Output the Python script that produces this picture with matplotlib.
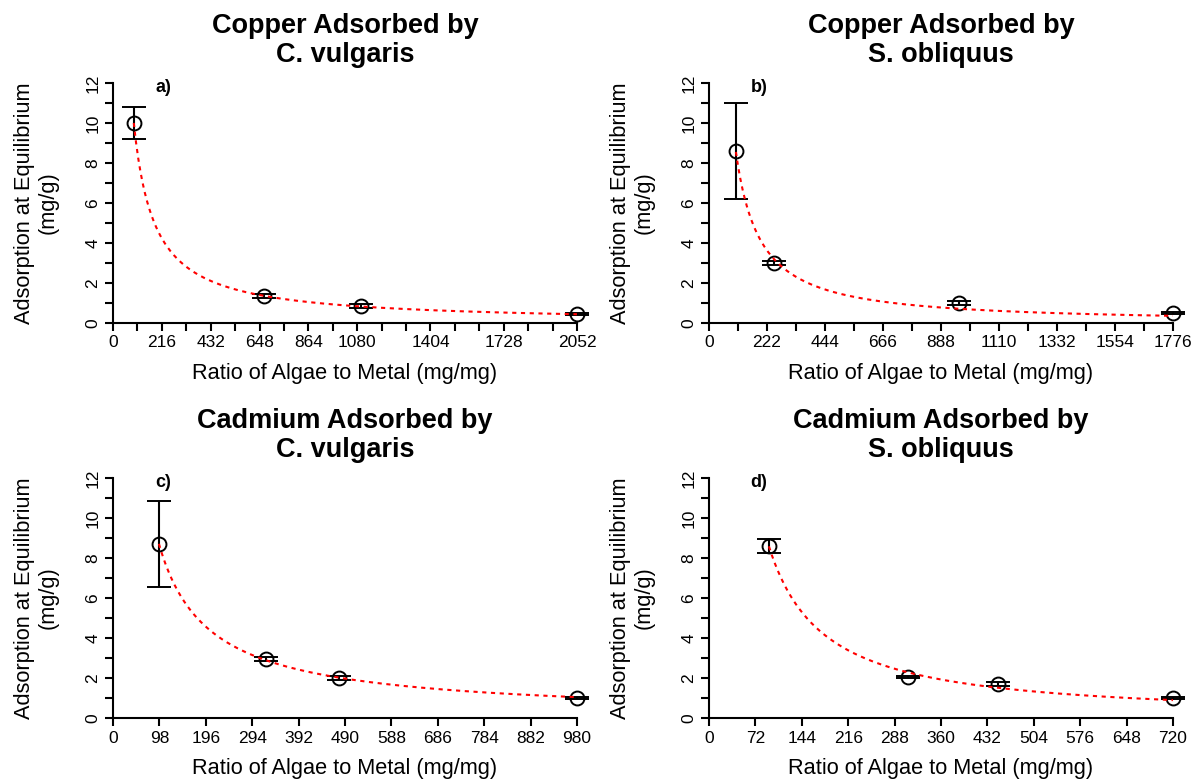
import numpy as np
import matplotlib.pyplot as plt

plt.rcParams['font.family'] = ['Liberation Sans', 'DejaVu Sans']

# panel titles and tags
titles = [
    "Copper Adsorbed by\nC. vulgaris",
    "Copper Adsorbed by\nS. obliquus",
    "Cadmium Adsorbed by\nC. vulgaris",
    "Cadmium Adsorbed by\nS. obliquus",
]
tags = ["a)", "b)", "c)", "d)"]

# ratio of algae to metal (mg/mg)
ratio_a = [92, 666, 1097, 2052]
ratio_b = [103, 247, 956, 1776]
ratio_c = [97, 324, 478, 980]
ratio_d = [93, 309, 448, 720]

# mean adsorption at equilibrium (mg/g)
qe_a = [10.0, 1.33, 0.85, 0.45]
qe_b = [8.6, 3.0, 1.0, 0.52]
qe_c = [8.7, 2.93, 2.0, 1.0]
qe_d = [8.6, 2.05, 1.7, 1.0]

# error bar half widths
err_a = [0.8, 0.1, 0.1, 0.07]
err_b = [2.4, 0.12, 0.08, 0.05]
err_c = [2.15, 0.1, 0.1, 0.06]
err_d = [0.37, 0.05, 0.12, 0.05]

# x axis: tick spacing, axis end and the labelled ticks
xtick_step = [108, 111, 98, 72]
xmax = [2052, 1776, 980, 720]
xlabels_shown = [
    [0, 216, 432, 648, 864, 1080, 1404, 1728, 2052],
    [0, 222, 444, 666, 888, 1110, 1332, 1554, 1776],
    [0, 98, 196, 294, 392, 490, 588, 686, 784, 882, 980],
    [0, 72, 144, 216, 288, 360, 432, 504, 576, 648, 720],
]


def power_fit(x, y):
    """Least squares fit of y = a * x**b (grid over b, closed form a)."""
    best = None
    for b in np.linspace(-2.5, -0.2, 2301):
        xb = x ** b
        a = (y @ xb) / (xb @ xb)
        sse = np.sum((y - a * xb) ** 2)
        if best is None or sse < best[0]:
            best = (sse, a, b)
    return best[1], best[2]


def main() -> None:
    fig = plt.figure(figsize=(11.97, 7.82), dpi=100)

    lefts = [0.0944, 0.5923, 0.0944, 0.5923]
    bottoms = [0.587, 0.587, 0.0818, 0.0818]
    width, height = 0.3876, 0.307

    ratios = [ratio_a, ratio_b, ratio_c, ratio_d]
    qes = [qe_a, qe_b, qe_c, qe_d]
    errs = [err_a, err_b, err_c, err_d]

    for i in range(4):
        ax = fig.add_axes([lefts[i], bottoms[i], width, height])
        x = np.array(ratios[i], dtype=float)
        y = np.array(qes[i], dtype=float)

        cont = ax.errorbar(x, y, yerr=errs[i], fmt='o', mfc='none', mec='k',
                           ms=10, mew=1.4, ecolor='k', elinewidth=1.5,
                           capsize=8.5, capthick=1.5, zorder=2)
        for child in cont.get_children():
            child.set_clip_on(False)

        a, b = power_fit(x, y)
        cx = np.linspace(x.min(), x.max(), 400)
        ax.plot(cx, a * cx ** b, color='red', ls=(0, (2, 2.2)), lw=1.5,
                zorder=3, clip_on=False)

        ax.set_xlim(0, xmax[i])
        ax.set_ylim(0, 12)
        for side in ['top', 'right']:
            ax.spines[side].set_visible(False)
        for side in ['left', 'bottom']:
            ax.spines[side].set_linewidth(1.5)

        xt = np.arange(0, xmax[i] + 1, xtick_step[i])
        ax.set_xticks(xt)
        ax.set_xticklabels([str(t) if t in xlabels_shown[i] else '' for t in xt])
        yt = np.arange(0, 13)
        ax.set_yticks(yt)
        ax.set_yticklabels([str(t) if t % 2 == 0 else '' for t in yt])
        ax.tick_params(direction='out', length=6, width=1.5, labelsize=12.5, pad=3)
        for lab in ax.get_yticklabels():
            lab.set_rotation(90)
            lab.set_va('center')

        ax.set_xlabel('Ratio of Algae to Metal (mg/mg)', fontsize=15.7, labelpad=9)
        ax.set_ylabel('Adsorption at Equilibrium\n(mg/g)', fontsize=15.7, labelpad=19)
        ax.set_title(titles[i], fontsize=19.5, fontweight='bold', pad=15,
                     linespacing=1.15)
        ax.text(0.108, 0.98, tags[i], transform=ax.transAxes, fontsize=13,
                fontweight='bold', ha='center', va='center')

    fig.savefig('out.png', dpi=100)


if __name__ == "__main__":
    main()
